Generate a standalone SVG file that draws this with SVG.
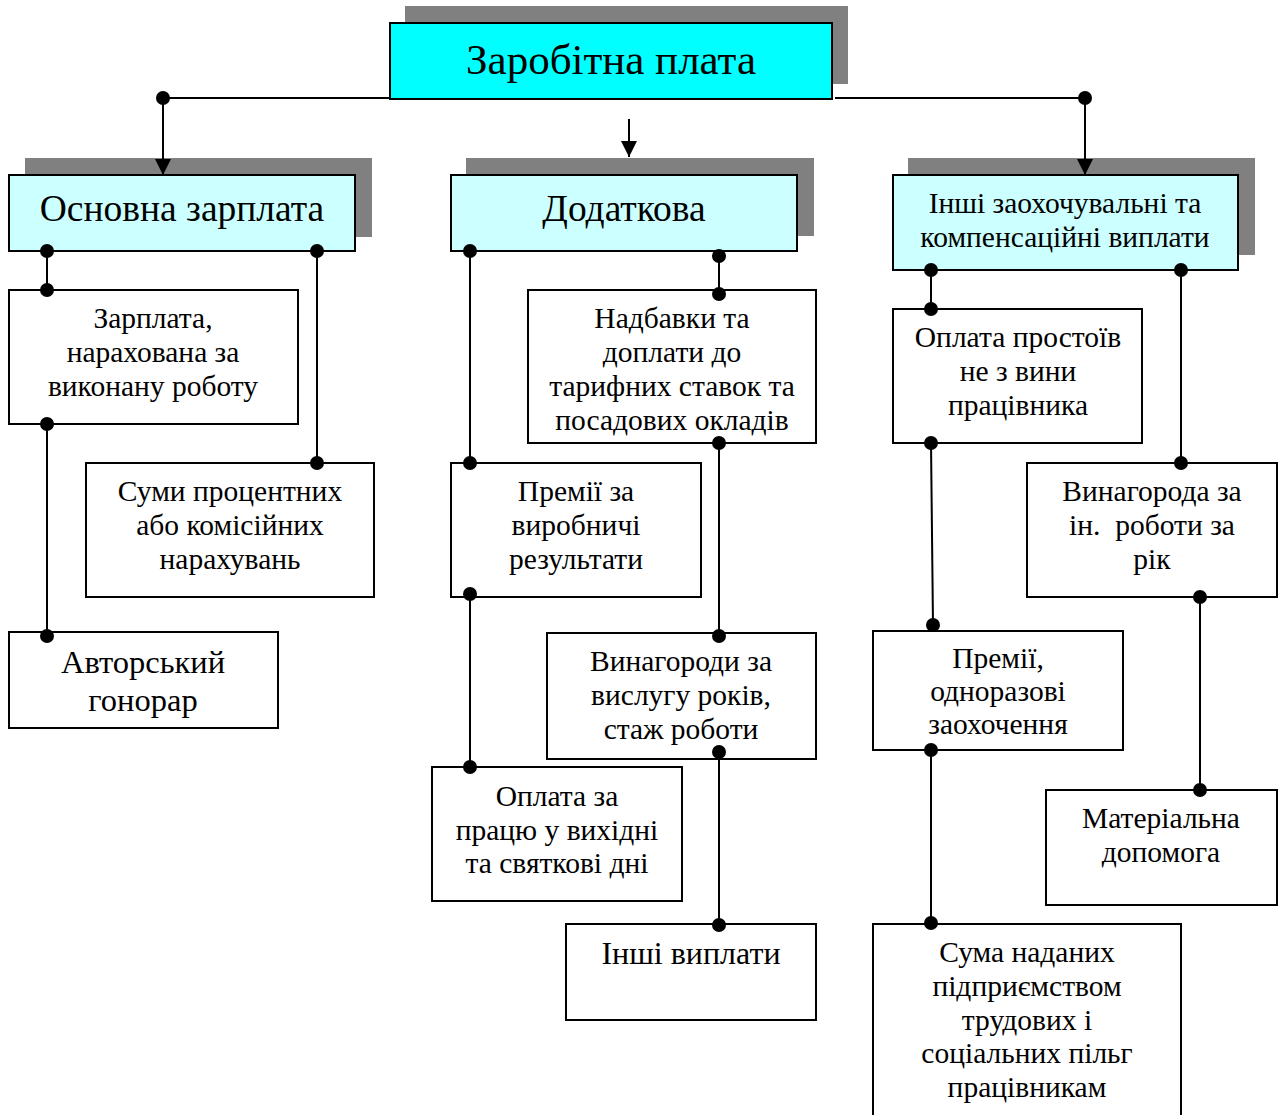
<svg xmlns="http://www.w3.org/2000/svg" width="1288" height="1115" viewBox="0 0 1288 1115">
<defs>
<style>
.box{fill:#fff;stroke:#000;stroke-width:2}
.hdr{fill:#CCFFFF;stroke:#000;stroke-width:2}
.sh{fill:#808080}
.t{font-family:"Liberation Serif","Times New Roman",serif;font-size:29.5px;text-anchor:middle;fill:#000}
.tl{font-family:"Liberation Serif","Times New Roman",serif;font-size:32.5px;text-anchor:middle;fill:#000}
.th{font-family:"Liberation Serif","Times New Roman",serif;font-size:37.5px;text-anchor:middle;fill:#000}
.ln{stroke:#000;stroke-width:2;fill:none}
.dot{fill:#000}
</style>
<marker id="arr" markerWidth="16" markerHeight="16" refX="16" refY="8" orient="auto" markerUnits="userSpaceOnUse" viewBox="0 0 16 16">
<path d="M0,0 L16,8 L0,16 z" fill="#000"/>
</marker>
</defs>
<rect width="1288" height="1115" fill="#fff"/>

<g id="root">
<rect class="sh" x="405" y="6" width="443" height="78"/>
<rect x="390" y="23" width="442" height="76" fill="#00FFFF" stroke="#000" stroke-width="2"/>
<text class="th" x="611" y="74" style="font-size:43px">Заробітна плата</text>
</g>

<g id="n-osnovna">
<rect class="sh" x="25" y="158" width="347" height="79"/>
<rect class="hdr" x="9" y="175" width="346" height="76"/>
<text class="th" x="182" y="221">Основна зарплата</text>
</g>

<g id="n-dodatkova">
<rect class="sh" x="466" y="158" width="348" height="78"/>
<rect class="hdr" x="451" y="175" width="346" height="76"/>
<text class="th" x="624" y="221">Додаткова</text>
</g>

<g id="n-inshi">
<rect class="sh" x="908" y="158" width="347" height="97"/>
<rect class="hdr" x="893" y="175" width="345" height="95"/>
<text class="t" x="1065" y="213">Інші заохочувальні та</text>
<text class="t" x="1065" y="247">компенсаційні виплати</text>
</g>

<g id="n-zarplata">
<rect class="box" x="9" y="290" width="289" height="134"/>
<text class="t" x="153" y="328">Зарплата,</text>
<text class="t" x="153" y="362">нарахована за</text>
<text class="t" x="153" y="396">виконану роботу</text>
</g>

<g id="n-sumy">
<rect class="box" x="86" y="463" width="288" height="134"/>
<text class="t" x="230" y="501">Суми процентних</text>
<text class="t" x="230" y="535">або комісійних</text>
<text class="t" x="230" y="569">нарахувань</text>
</g>

<g id="n-avtorskyi">
<rect class="box" x="9" y="632" width="269" height="96"/>
<text class="tl" x="143" y="673">Авторський</text>
<text class="tl" x="143" y="711">гонорар</text>
</g>

<g id="n-nadbavky">
<rect class="box" x="528" y="290" width="288" height="153"/>
<text class="t" x="672" y="328">Надбавки та</text>
<text class="t" x="672" y="362">доплати до</text>
<text class="t" x="672" y="396">тарифних ставок та</text>
<text class="t" x="672" y="430">посадових окладів</text>
</g>

<g id="n-premii">
<rect class="box" x="451" y="463" width="250" height="134"/>
<text class="t" x="576" y="501">Премії за</text>
<text class="t" x="576" y="535">виробничі</text>
<text class="t" x="576" y="569">результати</text>
</g>

<g id="n-vynahorody">
<rect class="box" x="547" y="633" width="269" height="126"/>
<text class="t" x="681" y="671">Винагороди за</text>
<text class="t" x="681" y="705">вислугу років,</text>
<text class="t" x="681" y="739">стаж роботи</text>
</g>

<g id="n-oplata">
<rect class="box" x="432" y="767" width="250" height="134"/>
<text class="t" x="557" y="806">Оплата за</text>
<text class="t" x="557" y="840">працю у вихідні</text>
<text class="t" x="557" y="873">та святкові дні</text>
</g>

<g id="n-inshi-vyplaty">
<rect class="box" x="566" y="924" width="250" height="96"/>
<text class="t" x="691" y="964" style="font-size:32px">Інші виплати</text>
</g>

<g id="n-prostoi">
<rect class="box" x="893" y="309" width="249" height="134"/>
<text class="t" x="1018" y="347">Оплата простоїв</text>
<text class="t" x="1018" y="381">не з вини</text>
<text class="t" x="1018" y="415">працівника</text>
</g>

<g id="n-vynahoroda">
<rect class="box" x="1027" y="463" width="250" height="134"/>
<text class="t" x="1152" y="501">Винагорода за</text>
<text class="t" x="1152" y="535" style="white-space:pre">ін.  роботи за</text>
<text class="t" x="1152" y="569">рік</text>
</g>

<g id="n-premii2">
<rect class="box" x="873" y="631" width="250" height="119"/>
<text class="t" x="998" y="668">Премії,</text>
<text class="t" x="998" y="701">одноразові</text>
<text class="t" x="998" y="734">заохочення</text>
</g>

<g id="n-material">
<rect class="box" x="1046" y="790" width="231" height="115"/>
<text class="t" x="1161" y="828">Матеріальна</text>
<text class="t" x="1161" y="862">допомога</text>
</g>

<g id="n-suma">
<rect class="box" x="873" y="924" width="308" height="200"/>
<text class="t" x="1027" y="962">Сума наданих</text>
<text class="t" x="1027" y="996">підприємством</text>
<text class="t" x="1027" y="1030">трудових і</text>
<text class="t" x="1027" y="1063">соціальних пільг</text>
<text class="t" x="1027" y="1097">працівникам</text>
</g>

<g id="connectors">
<line class="ln" x1="163" y1="98" x2="390" y2="98"/>
<line class="ln" x1="835" y1="98" x2="1085" y2="98"/>
<line class="ln" x1="163" y1="98" x2="163" y2="175" marker-end="url(#arr)"/>
<line class="ln" x1="1085" y1="98" x2="1085" y2="175" marker-end="url(#arr)"/>
<line class="ln" x1="629" y1="119" x2="629" y2="157" marker-end="url(#arr)"/>
<circle class="dot" cx="163" cy="98" r="7"/>
<circle class="dot" cx="1085" cy="98" r="7"/>

<line class="ln" x1="47" y1="251" x2="47" y2="290"/>
<line class="ln" x1="47" y1="424" x2="47" y2="636"/>
<line class="ln" x1="317" y1="251" x2="317" y2="463"/>
<circle class="dot" cx="47" cy="251" r="7"/>
<circle class="dot" cx="47" cy="290" r="7"/>
<circle class="dot" cx="47" cy="424" r="7"/>
<circle class="dot" cx="47" cy="636" r="7"/>
<circle class="dot" cx="317" cy="251" r="7"/>
<circle class="dot" cx="317" cy="463" r="7"/>

<line class="ln" x1="470" y1="251" x2="470" y2="463"/>
<line class="ln" x1="470" y1="594" x2="470" y2="767"/>
<line class="ln" x1="719" y1="256" x2="719" y2="294"/>
<line class="ln" x1="719" y1="443" x2="719" y2="636"/>
<line class="ln" x1="719" y1="752" x2="719" y2="925"/>
<circle class="dot" cx="470" cy="251" r="7"/>
<circle class="dot" cx="470" cy="463" r="7"/>
<circle class="dot" cx="470" cy="594" r="7"/>
<circle class="dot" cx="470" cy="767" r="7"/>
<circle class="dot" cx="719" cy="256" r="7"/>
<circle class="dot" cx="719" cy="294" r="7"/>
<circle class="dot" cx="719" cy="443" r="7"/>
<circle class="dot" cx="719" cy="636" r="7"/>
<circle class="dot" cx="719" cy="752" r="7"/>
<circle class="dot" cx="719" cy="925" r="7"/>

<line class="ln" x1="931" y1="270" x2="931" y2="309"/>
<line class="ln" x1="931" y1="443" x2="933" y2="625"/>
<line class="ln" x1="931" y1="750" x2="931" y2="923"/>
<line class="ln" x1="1181" y1="270" x2="1181" y2="463"/>
<line class="ln" x1="1200" y1="597" x2="1200" y2="790"/>
<circle class="dot" cx="931" cy="270" r="7"/>
<circle class="dot" cx="931" cy="309" r="7"/>
<circle class="dot" cx="931" cy="443" r="7"/>
<circle class="dot" cx="933" cy="625" r="7"/>
<circle class="dot" cx="931" cy="750" r="7"/>
<circle class="dot" cx="931" cy="923" r="7"/>
<circle class="dot" cx="1181" cy="270" r="7"/>
<circle class="dot" cx="1181" cy="463" r="7"/>
<circle class="dot" cx="1200" cy="597" r="7"/>
<circle class="dot" cx="1200" cy="790" r="7"/>
</g>
</svg>
